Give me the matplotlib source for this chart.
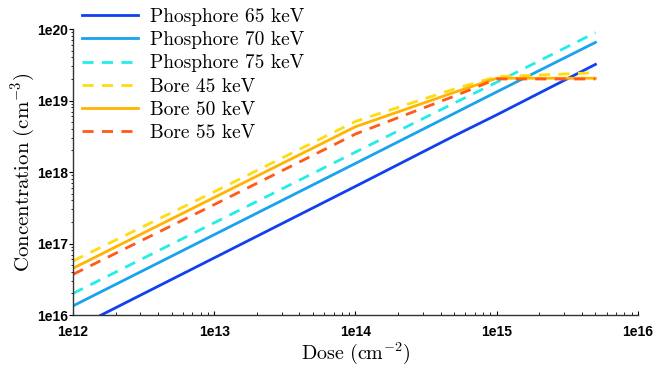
import matplotlib
matplotlib.use("Agg")
import matplotlib.pyplot as plt
import matplotlib.ticker as mticker
import numpy as np

plt.rcParams["mathtext.fontset"] = "cm"

dose = [1e12, 1e13, 1e14, 5e14, 1e15, 5e15]

p65 = [6.3e15, 6.3e16, 6.3e17, 3.2e18, 6.3e18, 3.2e19]
p70 = [1.34e16, 1.33e17, 1.32e18, 6.6e18, 1.32e19, 6.5e19]
p75 = [2.0e16, 1.95e17, 1.9e18, 9.2e18, 1.8e19, 8.9e19]
b45 = [5.7e16, 5.3e17, 5.1e18, 1.45e19, 2.15e19, 2.45e19]
b50 = [4.5e16, 4.4e17, 4.3e18, 1.3e19, 2.05e19, 2.05e19]
b55 = [3.7e16, 3.5e17, 3.4e18, 1.15e19, 2.0e19, 2.0e19]

series = [
    ("Phosphore 65 keV", p65, "#1040f0", "-"),
    ("Phosphore 70 keV", p70, "#19a2ee", "-"),
    ("Phosphore 75 keV", p75, "#22eee8", "--"),
    ("Bore 45 keV", b45, "#ffdc10", "--"),
    ("Bore 50 keV", b50, "#ffb400", "-"),
    ("Bore 55 keV", b55, "#ff5a18", "--"),
]

fig = plt.figure(figsize=(6.54, 3.70), dpi=100)
ax = fig.add_axes([0.1116, 0.1486, 0.8639, 0.773])

for name, vals, col, ls in series:
    ax.plot(dose, vals, color=col, linestyle=ls, linewidth=2.0, label=name,
            dashes=(4, 3) if ls == "--" else (None, None))

ax.set_xscale("log")
ax.set_yscale("log")
ax.set_xlim(1e12, 1e16)
ax.set_ylim(1e16, 1e20)

fmt = mticker.FuncFormatter(lambda v, p: "1e%d" % round(np.log10(v)))
ax.xaxis.set_major_formatter(fmt)
ax.yaxis.set_major_formatter(fmt)
for lab in ax.get_xticklabels() + ax.get_yticklabels():
    lab.set_fontfamily("Liberation Sans")
    lab.set_fontweight("bold")
    lab.set_fontsize(10)

ax.tick_params(axis="x", which="both", direction="in", length=3, pad=7)
ax.tick_params(axis="x", which="minor", length=2)
ax.tick_params(axis="y", which="both", direction="out", length=3, pad=0.5)
ax.tick_params(axis="y", which="minor", length=1.5)

for s in ["top", "right"]:
    ax.spines[s].set_visible(False)
for s in ["left", "bottom"]:
    ax.spines[s].set_color("#333333")
    ax.spines[s].set_linewidth(1.0)

ax.set_xlabel(r"$\mathrm{Dose\ (cm^{-2})}$", fontsize=14.5, labelpad=1)
ax.set_ylabel(r"$\mathrm{Concentration\ (cm^{-3})}$", fontsize=15, labelpad=0)

leg = fig.legend(loc="upper left", bbox_to_anchor=(82 / 654, 1 - 8 / 370),
                 frameon=False, prop={"family": "cmr10", "size": 14},
                 handlelength=2.9, labelspacing=0.27, handletextpad=0.6,
                 borderaxespad=0, borderpad=0)

plt.savefig("out.png", dpi=100)
